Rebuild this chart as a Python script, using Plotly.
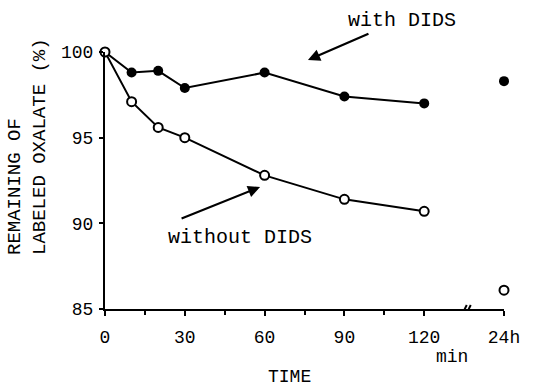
import plotly.graph_objects as go

# Data (x in minutes; the 24 h point is placed at the axis position labelled "24h")
time_min = [0, 10, 20, 30, 60, 90, 120]
with_dids = [100, 98.8, 98.9, 97.9, 98.8, 97.4, 97.0]
without_dids = [100, 97.1, 95.6, 95.0, 92.8, 91.4, 90.7]
pos_24h = 150
with_dids_24h = 98.3
without_dids_24h = 86.1

xtick_vals = [0, 30, 60, 90, 120, 150]
xtick_text = ["0", "30", "60", "90", "120", "24h"]
xminor_vals = [15, 45, 75, 105]
ytick_vals = [85, 90, 95, 100]

FONT = "Courier New, Courier, Nimbus Mono PS, FreeMono, Liberation Mono, monospace"

L, R, T, B = 105, 51, 52, 81
W, H = 555, 390
PW, PH = W - L - R, H - T - B


def px(x):
    return (x - L) / PW


def py(y):
    return (H - B - y) / PH


fig = go.Figure()
fig.add_trace(go.Scatter(
    x=time_min, y=with_dids, mode="lines+markers",
    line=dict(color="black", width=2),
    marker=dict(symbol="circle", size=10, color="black"),
    cliponaxis=False, showlegend=False))
fig.add_trace(go.Scatter(
    x=time_min, y=without_dids, mode="lines+markers",
    line=dict(color="black", width=2),
    marker=dict(symbol="circle", size=9, color="white", line=dict(color="black", width=2)),
    cliponaxis=False, showlegend=False))
fig.add_trace(go.Scatter(
    x=[pos_24h], y=[with_dids_24h], mode="markers",
    marker=dict(symbol="circle", size=10, color="black"),
    cliponaxis=False, showlegend=False))
fig.add_trace(go.Scatter(
    x=[pos_24h], y=[without_dids_24h], mode="markers",
    marker=dict(symbol="circle", size=9, color="white", line=dict(color="black", width=2)),
    cliponaxis=False, showlegend=False))

fig.update_layout(
    width=W, height=H,
    margin=dict(l=L, r=R, t=T, b=B),
    paper_bgcolor="white", plot_bgcolor="white",
    font=dict(family=FONT, size=18, color="black"),
    xaxis=dict(
        range=[0, 150], tickmode="array", tickvals=xtick_vals, ticktext=xtick_text,
        showline=True, linecolor="black", linewidth=2, showgrid=False, zeroline=False,
        ticks="outside", ticklen=5, tickwidth=2, tickcolor="black",
        ticklabelstandoff=5,
        minor=dict(tickmode="array", tickvals=xminor_vals, ticks="outside",
                   ticklen=4, tickwidth=2, tickcolor="black"),
        tickfont=dict(family=FONT, size=18, color="black"),
    ),
    yaxis=dict(
        range=[85, 100], tickmode="array", tickvals=ytick_vals,
        showline=True, linecolor="black", linewidth=2, showgrid=False, zeroline=False,
        ticks="outside", ticklen=4, tickwidth=2, tickcolor="black",
        ticklabelstandoff=2,
        tickfont=dict(family=FONT, size=18, color="black"),
    ),
)

ann = []
# arrows (head in data coords, tail offset in pixels)
ann.append(dict(x=76.3, y=99.53, xref="x", yref="y", ax=62, ay=-27,
                showarrow=True, arrowhead=2, arrowsize=1.1, arrowwidth=2.2, arrowcolor="black", text=""))
ann.append(dict(x=58.3, y=92.12, xref="x", yref="y", ax=-80, ay=32,
                showarrow=True, arrowhead=2, arrowsize=1.1, arrowwidth=2.2, arrowcolor="black", text=""))


def label(text, x, y, size, **kw):
    d = dict(x=px(x), y=py(y), xref="paper", yref="paper", xanchor="center", yanchor="middle",
             text=text, showarrow=False, font=dict(family=FONT, size=size, color="black"))
    d.update(kw)
    return d


ann.append(label("with DIDS", 402, 21, 20))
ann.append(label("without DIDS", 240, 237, 20))
ann.append(label("min", 452, 357, 18))
ann.append(label("TIME", 289, 389, 18, yanchor="bottom"))
ann.append(label("REMAINING OF<br>LABELED OXALATE (%)", 27, 147, 19, textangle=-90, align="left"))
fig.update_layout(annotations=ann)

# axis break mark near 135
fig.add_shape(type="path", xref="x", yref="y", xsizemode="pixel", ysizemode="pixel",
              xanchor=136, yanchor=85,
              path="M -4 -4 L 0 4 M 0 -4 L 4 4",
              line=dict(color="black", width=2))

fig.write_html("out.html")
